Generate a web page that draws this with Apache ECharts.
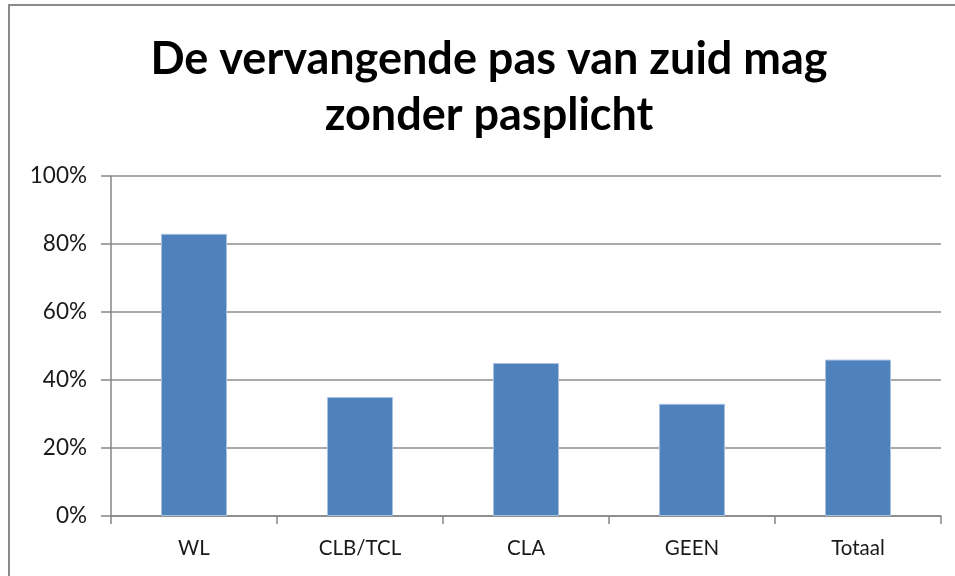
<!DOCTYPE html>
<html>
<head>
<meta charset="utf-8">
<script src="https://cdn.jsdelivr.net/npm/echarts@6/dist/echarts.min.js"></script>
<style>
  html, body { margin: 0; padding: 0; background: #fff; }
  #frame { position: absolute; left: 8px; top: 4px; width: 960px; height: 590px;
           border-left: 2px solid #8a8a8a; border-top: 2px solid #8a8a8a; }
  #main { position: absolute; left: 0; top: 0; width: 955px; height: 576px; }
</style>
</head>
<body>
<div id="frame"></div>
<div id="main"></div>
<script>
// categorieën en waarden (aandeel, 0..1)
var categories = ['WL', 'CLB/TCL', 'CLA', 'GEEN', 'Totaal'];
var values = [0.83, 0.35, 0.45, 0.33, 0.46];
var yTicks = [0, 0.2, 0.4, 0.6, 0.8, 1];

var myChart = echarts.init(document.getElementById('main'));

option = {
    backgroundColor: 'transparent',
    animation: false,
    title: {
        text: 'De vervangende pas van zuid mag\nzonder pasplicht',
        left: 484,
        top: 26,
        textAlign: 'center',
        textStyle: {
            fontFamily: 'Lato',
            fontWeight: 'bold',
            fontSize: 45,
            lineHeight: 56,
            color: '#000'
        }
    },
    grid: {
        left: 111,
        right: 14,
        top: 176,
        bottom: 60
    },
    xAxis: {
        type: 'category',
        data: categories,
        axisLine: { lineStyle: { color: '#868686', width: 1.5 } },
        axisTick: { show: true, length: 8, lineStyle: { color: '#868686', width: 1.5 } },
        axisLabel: {
            margin: 22,
            fontFamily: 'Lato',
            fontSize: 20.5,
            color: '#1a1a1a'
        }
    },
    yAxis: {
        type: 'value',
        min: yTicks[0],
        max: yTicks[yTicks.length - 1],
        interval: 0.2,
        axisLine: { show: true, lineStyle: { color: '#868686', width: 1.5 } },
        axisTick: { show: true, length: 10, lineStyle: { color: '#868686', width: 1.5 } },
        splitLine: { lineStyle: { color: '#8c8c8c', width: 1.5 } },
        axisLabel: {
            margin: 24,
            fontFamily: 'Lato',
            fontSize: 22.5,
            color: '#1a1a1a',
            formatter: function (v) { return Math.round(v * 100) + '%'; }
        }
    },
    series: [
        {
            type: 'bar',
            data: values,
            barWidth: 66,
            itemStyle: {
                color: '#4f81bd',
                borderColor: '#a9c1e0',
                borderWidth: 1
            }
        }
    ]
};

myChart.setOption(option);
</script>
</body>
</html>
